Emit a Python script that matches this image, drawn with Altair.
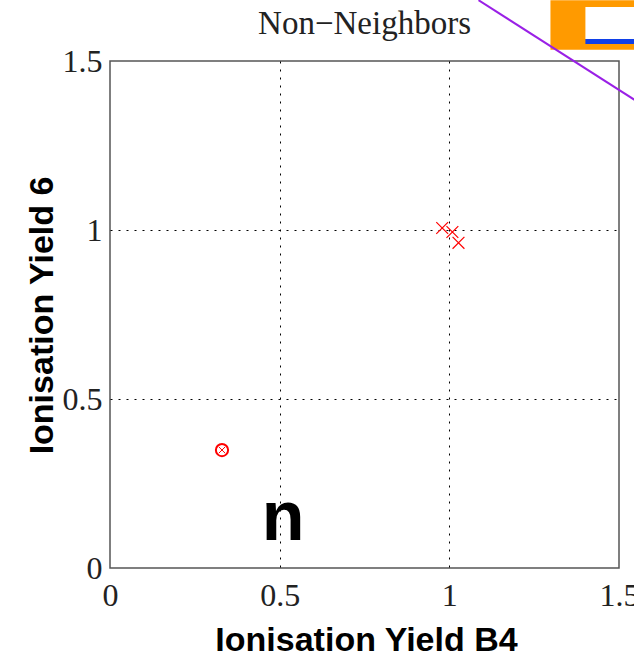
import altair as alt
import pandas as pd

# Measured ionisation yields
cross_x = [0.979, 1.009, 1.027]
cross_y = [1.006, 0.994, 0.962]
ring_x = [0.330]
ring_y = [0.349]
tick_values = [0, 0.5, 1, 1.5]
grid_values = [0.5, 1]

# Overlay annotations (data units)
label_text = ["n"]
label_x = [0.51]
label_y = [0.083]
badge_x = [1.298, 1.401, 1.401]
badge_x2 = [1.60, 1.60, 1.60]
badge_y = [1.68, 1.660, 1.565]
badge_y2 = [1.533, 1.565, 1.550]
badge_color = ["#ff9a00", "#ffffff", "#1040e8"]
stroke_x = [1.086, 1.546]
stroke_y = [1.680, 1.385]

serif = "Liberation Serif"
sans = "Liberation Sans Narrow, Arial Narrow, Liberation Sans, sans-serif"

sx = alt.Scale(domain=[0, 1.5], nice=False, zero=False)
sy = alt.Scale(domain=[0, 1.5], nice=False, zero=False)

common = dict(
    values=tick_values, labelExpr="datum.value == 0 ? '0' : format(datum.value, '')",
    grid=True, gridDash=[2, 6], gridColor="#000", gridWidth=1,
    gridOpacity=alt.expr("datum.value == 0.5 || datum.value == 1 ? 1 : 0"),
    ticks=False, domain=False,
    labelFont=serif, labelFontSize=32, labelColor="#222",
    labelFlush=False, labelOverlap=False,
    titleFont=sans, titleFontSize=34, titleFontWeight="bold", titleColor="#000",
    titleAlign="center", titleBaseline="middle",
)
x_axis = alt.Axis(title="Ionisation Yield B4", labelPadding=12,
                  titleX=256, titleY=72, **common)
y_axis = alt.Axis(title="Ionisation Yield 6", labelPadding=8, labelBaseline="middle",
                  titleX=-68, titleY=254, titleAngle=270, **common)

crosses = pd.DataFrame({"x": cross_x, "y": cross_y})
rings = pd.DataFrame({"x": ring_x, "y": ring_y})
x_shape = "M-1,-1L1,1M-1,1L1,-1"

base = alt.Chart(crosses).mark_point(
    shape=x_shape, color="#ff0000", strokeWidth=1.2, size=140, filled=False, opacity=1
).encode(
    x=alt.X("x:Q", scale=sx, axis=x_axis),
    y=alt.Y("y:Q", scale=sy, axis=y_axis),
)

ring = alt.Chart(rings).mark_point(
    shape="circle", color="#ff0000", strokeWidth=2, size=150, filled=False, opacity=1
).encode(x=alt.X("x:Q", scale=sx), y=alt.Y("y:Q", scale=sy))

ring_x_mark = alt.Chart(rings).mark_point(
    shape=x_shape, color="#ff0000", strokeWidth=1, size=40, filled=False, opacity=1
).encode(x=alt.X("x:Q", scale=sx), y=alt.Y("y:Q", scale=sy))

letter = alt.Chart(pd.DataFrame({"t": label_text, "x": label_x, "y": label_y})).mark_text(
    font=sans, fontSize=70, fontWeight="bold", color="#000", align="center", baseline="alphabetic"
).encode(x=alt.X("x:Q", scale=sx), y=alt.Y("y:Q", scale=sy), text="t:N")

badge = alt.Chart(pd.DataFrame({
    "x": badge_x, "x2": badge_x2, "y": badge_y, "y2": badge_y2, "c": badge_color
})).mark_rect(clip=False).encode(
    x=alt.X("x:Q", scale=sx), x2="x2:Q",
    y=alt.Y("y:Q", scale=sy), y2="y2:Q",
    color=alt.Color("c:N", scale=None),
)

stroke = alt.Chart(pd.DataFrame({"x": stroke_x, "y": stroke_y})).mark_line(
    color="#9a20e6", strokeWidth=2, clip=False
).encode(x=alt.X("x:Q", scale=sx), y=alt.Y("y:Q", scale=sy))

# The overlay shapes reach above the plot, so the title is nudged back down with dy
chart = alt.layer(base, ring, ring_x_mark, letter, badge, stroke).properties(
    width=509, height=507,
    title=alt.TitleParams(
        "Non\u2212Neighbors", font=serif, fontSize=33, fontWeight="normal",
        color="#222", anchor="middle", frame="group", baseline="alphabetic",
        offset=0, dy=71,
    ),
    autosize=alt.AutoSizeParams(type="none"),
    padding={"left": 110, "top": 61, "right": 15, "bottom": 100},
).configure(
    background="white",
    view=alt.ViewConfig(stroke="#555", strokeWidth=1.5, fill="white"),
)

chart.save("out.html", embed_options={"renderer": "svg", "actions": False})
